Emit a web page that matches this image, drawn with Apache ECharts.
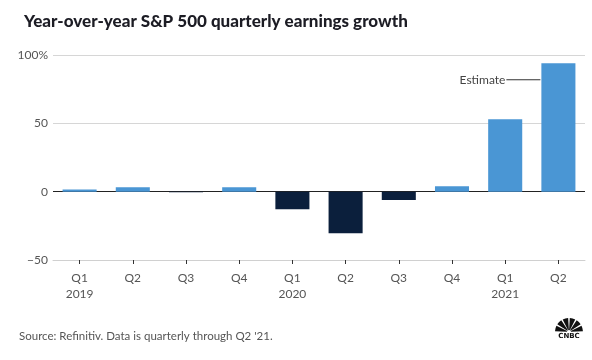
<!DOCTYPE html>
<html><head><meta charset="utf-8">
<script src="https://cdn.jsdelivr.net/npm/echarts@6/dist/echarts.min.js"></script>
<style>html,body{margin:0;padding:0;background:#fff}#c{width:592px;height:360px}</style>
</head><body><div id="c"></div>
<script>
const quarters = ['Q1','Q2','Q3','Q4','Q1','Q2','Q3','Q4','Q1','Q2'];
const years = ['2019','2019','2019','2019','2020','2020','2020','2020','2021','2021'];
const growth = [1.6, 3.3, -0.4, 3.2, -12.8, -30.5, -6.1, 3.9, 52.9, 93.9];
const estimateIndex = 9;
const yTicks = [-50, 0, 50, 100];

const categories = quarters.map((q, i) => q + ' ' + years[i]);
const BLUE = '#4a96d4', NAVY = '#0b1f3c';
const FONT = 'Lato';

const chart = echarts.init(document.getElementById('c'), null, {renderer: 'canvas'});
const data = growth.map((v, i) => {
  const item = {value: v, itemStyle: {color: v >= 0 ? BLUE : NAVY}};
  if (i === estimateIndex) {
    item.label = {
      show: true, position: [-1, 16.5], align: 'right', verticalAlign: 'middle',
      formatter: '{t|Estimate}{l|}',
      rich: {
        t: {fontFamily: FONT, fontSize: 12, color: '#444', padding: [0, 1, 0, 0]},
        l: {width: 34, height: 1, backgroundColor: '#333'}
      }
    };
  }
  return item;
});

chart.setOption({
  animation: false,
  title: {
    text: 'Year-over-year S&P 500 quarterly earnings growth',
    left: 19, top: 8,
    textStyle: {fontFamily: FONT, fontWeight: 900, fontSize: 17, color: '#1c1c24'}
  },
  grid: {left: 53, right: 7, top: 55, bottom: 100},
  xAxis: {
    type: 'category', data: categories,
    axisLine: {onZero: false, lineStyle: {color: '#d0d0d0'}},
    axisTick: {show: true, alignWithLabel: true, length: 4, lineStyle: {color: '#333'}},
    axisLabel: {
      interval: 0, margin: 10, lineHeight: 16, fontFamily: FONT, fontSize: 12, color: '#555',
      formatter: (val, i) => quarters[i] + (quarters[i] === 'Q1' ? '\n' + years[i] : '')
    }
  },
  yAxis: {
    type: 'value', min: yTicks[0], max: yTicks[yTicks.length - 1], interval: 50,
    axisLine: {show: false}, axisTick: {show: false},
    axisLabel: {
      margin: 5, fontFamily: FONT, fontSize: 12, color: '#555',
      formatter: v => v === 100 ? v + '%' : (v < 0 ? '\u2212' + Math.abs(v) : '' + v)
    },
    splitLine: {lineStyle: {color: ['#d6d6d6', '#222', '#d6d6d6', '#d6d6d6'], width: 1}}
  },
  series: [{
    type: 'bar', data: data, barCategoryGap: '36%'
  }],
  graphic: [
    {type: 'text', left: 19, top: 330,
     style: {text: "Source: Refinitiv. Data is quarterly through Q2 '21.", fontFamily: FONT, fontSize: 11.5, fill: '#555'}},
    {type: 'group', left: 555, top: 318, children: (function () {
      const ch = [];
      for (let k = 0; k < 6; k++) {
        const a0 = Math.PI + k * Math.PI / 6 + 0.06;
        const a1 = Math.PI + (k + 1) * Math.PI / 6 - 0.06;
        ch.push({type: 'sector', shape: {cx: 15, cy: 15, r: 14, r0: 2, startAngle: a0, endAngle: a1}, style: {fill: '#111'}});
      }
      ch.push({type: 'text', x: 15, y: 16, style: {text: 'CNBC', fontFamily: 'DejaVu Sans', fontWeight: 'bold', fontSize: 7, fill: '#111', align: 'center', verticalAlign: 'top'}});
      return ch;
    })()}
  ]
});
</script></body></html>
